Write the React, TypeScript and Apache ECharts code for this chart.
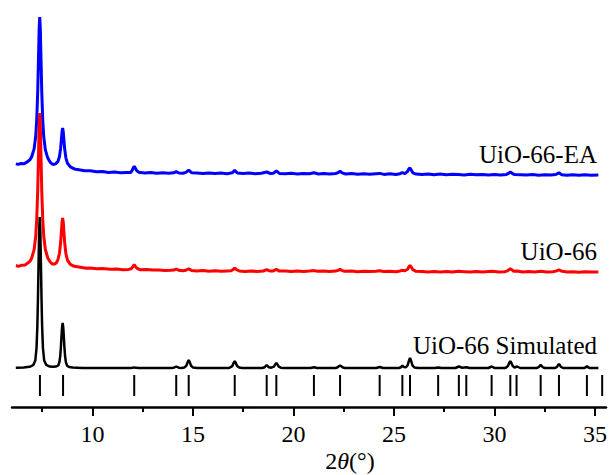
import React, { useEffect, useRef } from "react";
import * as echarts from "echarts";

// Powder XRD patterns, intensity in arbitrary units above each trace's own baseline.
const SIMULATED: [number, number][] = [
  [6.19, 0.3], [6.58, 0.5], [6.88, 1.2], [7.06, 3], [7.16, 7.5], [7.22, 20], [7.26, 41], [7.29, 68],
  [7.32, 103], [7.35, 136], [7.38, 151], [7.41, 136], [7.44, 103], [7.47, 68], [7.5, 41], [7.54, 20],
  [7.6, 7.5], [7.7, 3.2], [7.88, 1.4], [8.02, 1.2], [8.2, 1.5], [8.3, 2.5], [8.36, 6], [8.4, 12],
  [8.43, 20], [8.46, 30.6], [8.49, 40.5], [8.52, 45], [8.55, 40.5], [8.58, 30.6], [8.61, 20], [8.64, 12],
  [8.68, 5.9], [8.74, 2.3], [8.84, 1], [9.02, 0.4], [9.5, 0.1], [10.5, 0],
  [11.9, 0], [12.0, 0.15], [12.08, 0.6], [12.16, 0.15], [12.3, 0],
  [13.9, 0], [14.05, 0.3], [14.17, 1.5], [14.29, 0.3], [14.45, 0.1], [14.57, 0.4], [14.67, 2.2],
  [14.73, 5.4], [14.79, 8], [14.85, 5.4], [14.91, 2.2], [15.01, 0.4], [15.2, 0],
  [16.8, 0], [16.96, 1.9], [17.02, 4.8], [17.08, 7], [17.14, 4.8], [17.2, 1.9], [17.3, 0.4], [17.45, 0],
  [18.45, 0], [18.57, 0.8], [18.67, 3], [18.77, 0.8], [18.9, 0.3], [19.03, 1.35], [19.09, 3.4],
  [19.15, 5], [19.21, 3.4], [19.27, 1.35], [19.37, 0.3], [19.55, 0],
  [20.85, 0], [21.02, 0.8], [21.19, 0],
  [22.1, 0], [22.2, 0.7], [22.26, 1.7], [22.32, 2.5], [22.38, 1.7], [22.44, 0.7], [22.55, 0],
  [24.12, 0], [24.29, 1], [24.46, 0],
  [25.25, 0], [25.35, 0.7], [25.42, 2.5], [25.49, 0.9], [25.6, 0.8], [25.68, 2.7], [25.74, 6.8],
  [25.8, 10], [25.86, 6.8], [25.92, 2.7], [26.02, 0.5], [26.2, 0],
  [27.03, 0], [27.2, 0.6], [27.37, 0],
  [28.06, 0], [28.23, 1.5], [28.4, 0.3], [28.6, 0.8], [28.77, 0],
  [29.7, 0], [29.86, 1.5], [30.0, 0.1],
  [30.55, 0], [30.67, 1.9], [30.73, 4.8], [30.79, 7], [30.85, 4.8], [30.91, 1.9], [31.0, 0.5],
  [31.13, 1.5], [31.28, 0],
  [32.1, 0], [32.2, 0.8], [32.25, 2], [32.3, 3], [32.35, 2], [32.4, 0.8], [32.5, 0],
  [33.02, 0], [33.11, 1.1], [33.16, 2.7], [33.21, 4], [33.26, 2.7], [33.31, 1.1], [33.42, 0],
  [34.45, 0], [34.54, 0.6], [34.6, 2], [34.66, 0.6], [34.75, 0],
  [35.17, 0],
];

const UIO66: [number, number][] = [
  [6.19, 5.7], [6.35, 5.3], [6.5, 6.3], [6.65, 6.6], [6.78, 8.4], [6.9, 10.4], [6.98, 13.5], [7.1, 21.8],
  [7.18, 35.2], [7.23, 51.8], [7.28, 81.4], [7.32, 117.5], [7.35, 145.8], [7.38, 158.5], [7.41, 145.8],
  [7.44, 117.4], [7.48, 81.5], [7.53, 51.9], [7.58, 35.3], [7.66, 22], [7.78, 13.5], [7.9, 9.5],
  [8.0, 7.6], [8.1, 7.4], [8.2, 8.5], [8.28, 11.5], [8.36, 18], [8.42, 29], [8.46, 41], [8.49, 49.5],
  [8.52, 53.5], [8.55, 49.5], [8.58, 40.5], [8.62, 29], [8.68, 18], [8.76, 11.4], [8.9, 7.2],
  [9.1, 5.2], [9.4, 4.3], [9.7, 3.2], [9.9, 3.6], [10.2, 2.8], [10.5, 3.0], [10.9, 2.3], [11.2, 2.5],
  [11.5, 1.8], [11.8, 2.1], [11.93, 2.8], [12.0, 4.5], [12.08, 6.8], [12.16, 4.5], [12.25, 2.7],
  [12.4, 1.8], [12.7, 2.0], [13.0, 1.4], [13.3, 1.6], [13.6, 0.9], [13.9, 1.2], [14.05, 1.4],
  [14.17, 2.5], [14.3, 1.2], [14.5, 0.8], [14.65, 1.3], [14.79, 2.8], [14.93, 1.1], [15.2, 0.6],
  [15.5, 1.0], [15.8, 0.3], [16.1, 0.7], [16.4, 0.2], [16.7, 0.6], [16.9, 0.8], [17.0, 2.0],
  [17.08, 3.4], [17.16, 2.0], [17.3, 0.6], [17.6, 0.1], [17.9, 0.6], [18.2, 0.0], [18.5, 0.5],
  [18.67, 1.9], [18.82, 0.5], [19.0, 0.6], [19.15, 2.2], [19.3, 0.4], [19.6, 0.5], [19.9, -0.1],
  [20.2, 0.4], [20.5, 0.0], [20.8, 0.5], [21.02, 0.9], [21.2, 0.2], [21.5, 0.4], [21.8, -0.1],
  [22.1, 0.4], [22.24, 1.2], [22.32, 2.3], [22.4, 1.2], [22.55, 0.2], [22.9, 0.4], [23.2, -0.2],
  [23.5, 0.3], [23.8, -0.1], [24.1, 0.3], [24.29, 0.8], [24.5, -0.1], [24.8, 0.3], [25.1, -0.2],
  [25.3, 0.5], [25.42, 1.3], [25.55, 0.8], [25.68, 2.2], [25.74, 4.5], [25.8, 6], [25.86, 4.5],
  [25.94, 1.8], [26.1, 0.2], [26.4, 0.0], [26.7, -0.5], [27.0, 0.0], [27.3, -0.4], [27.6, 0.0],
  [27.9, -0.5], [28.2, 0.2], [28.5, -0.2], [28.8, -0.6], [29.1, -0.1], [29.4, -0.5], [29.7, 0.0],
  [29.9, 0.3], [30.2, -0.4], [30.5, -0.2], [30.65, 0.6], [30.72, 1.8], [30.79, 2.8], [30.86, 1.8],
  [30.95, 0.3], [31.13, 0.5], [31.4, -0.5], [31.7, -0.1], [32.0, -0.6], [32.3, 0.2], [32.6, -0.4],
  [32.9, -0.2], [33.1, 0.6], [33.21, 1.8], [33.32, 0.5], [33.6, -0.5], [33.9, -0.2], [34.2, -0.7],
  [34.5, -0.3], [34.8, -0.6], [35.17, -0.5],
];

const UIO66_EA: [number, number][] = [
  [6.19, 11.1], [6.32, 10.6], [6.45, 11.6], [6.6, 11.3], [6.78, 13.4], [6.9, 15.5], [6.98, 18.3],
  [7.1, 26.1], [7.18, 39], [7.23, 55], [7.28, 83.7], [7.32, 118.9], [7.35, 145.8], [7.38, 158],
  [7.41, 145.7], [7.44, 118.6], [7.48, 83.4], [7.53, 54.4], [7.58, 38.2], [7.66, 25.1], [7.78, 16.9],
  [7.9, 12.8], [7.98, 11.2], [8.08, 10.5], [8.18, 11.4], [8.28, 13.3], [8.36, 18.2], [8.42, 26.8],
  [8.46, 36], [8.49, 43.2], [8.52, 47], [8.55, 43], [8.58, 35.7], [8.62, 26.2], [8.68, 17.2],
  [8.76, 11.7], [8.9, 8.2], [9.1, 6.1], [9.4, 5], [9.6, 4.2], [9.9, 4.3], [10.2, 3.2], [10.5, 3.4],
  [10.8, 2.5], [11.1, 2.9], [11.4, 2.2], [11.7, 2.6], [11.9, 2.4], [11.98, 4.6], [12.03, 7.0],
  [12.08, 8.8], [12.13, 7.0], [12.2, 4.4], [12.3, 2.8], [12.6, 2.0], [12.9, 2.5], [13.2, 1.8],
  [13.5, 2.3], [13.8, 1.7], [14.05, 2.2], [14.17, 3.3], [14.3, 2.0], [14.5, 1.7], [14.65, 2.6],
  [14.79, 4.8], [14.93, 2.3], [15.2, 1.9], [15.5, 1.4], [15.8, 2.1], [16.1, 1.5], [16.4, 2.0],
  [16.7, 1.3], [16.95, 2.2], [17.08, 4.6], [17.21, 2.0], [17.5, 1.5], [17.8, 1.9], [18.1, 1.2],
  [18.4, 1.8], [18.67, 3.0], [18.85, 1.5], [19.0, 1.8], [19.15, 4.0], [19.3, 1.6], [19.6, 1.3],
  [19.9, 1.8], [20.2, 1.1], [20.5, 1.6], [20.8, 1.2], [21.02, 2.2], [21.25, 1.0], [21.5, 1.5],
  [21.8, 0.9], [22.1, 1.5], [22.22, 2.3], [22.32, 3.8], [22.42, 2.2], [22.6, 1.0], [22.9, 1.4],
  [23.2, 0.7], [23.5, 1.3], [23.8, 0.8], [24.1, 1.3], [24.3, 1.6], [24.5, 0.6], [24.8, 1.2],
  [25.1, 0.5], [25.3, 1.3], [25.42, 2.4], [25.55, 1.4], [25.68, 3.6], [25.74, 6], [25.8, 7],
  [25.86, 5], [25.94, 2.2], [26.1, 0.9], [26.4, 0.5], [26.7, 1.0], [27.0, 0.3], [27.3, 0.9],
  [27.6, 0.2], [27.9, 0.8], [28.2, 0.6], [28.5, 0.1], [28.8, 0.7], [29.1, 0.2], [29.4, 0.6],
  [29.7, 0.0], [30.0, 0.5], [30.3, 0.1], [30.6, 0.6], [30.72, 1.9], [30.79, 3], [30.86, 1.9],
  [31.0, 0.4], [31.3, 0.3], [31.6, -0.1], [31.9, 0.4], [32.2, -0.2], [32.5, 0.3], [32.8, -0.1],
  [33.05, 0.5], [33.21, 2.2], [33.35, 0.3], [33.6, -0.2], [33.9, 0.3], [34.2, -0.3], [34.5, 0.2],
  [34.8, -0.2], [35.17, 0],
];

// Calculated Bragg reflection positions (2θ, °)
const REFLECTIONS: number[] = [
  7.39, 8.54, 12.08, 14.17, 14.79, 17.08, 18.67, 19.15, 21.02, 22.32, 24.29, 25.42, 25.8, 27.2,
  28.23, 28.6, 29.86, 30.79, 31.1, 32.3, 33.21, 34.6, 35.36,
];

const SERIES_NAMES = ["UiO-66-EA", "UiO-66", "UiO-66 Simulated"];
const SERIES_COLORS = ["#0000ff", "#ff0000", "#000000"];
const VERTICAL_OFFSETS = [232, 135.5, 39];
const MAJOR_TICKS = [10, 15, 20, 25, 30, 35];
const MINOR_TICKS = [7.5, 12.5, 17.5, 22.5, 27.5, 32.5];

const SERIF = "Liberation Serif";
const MARK_TOP = 32;
const MARK_BOTTOM = 11;

function shift(points: [number, number][], dy: number): [number, number][] {
  return points.map(([x, y]) => [x, y + dy]);
}

export default function App() {
  const ref = useRef<HTMLDivElement>(null);

  useEffect(() => {
    if (!ref.current) return;
    const chart = echarts.init(ref.current, null, { renderer: "svg" });
    const traces = [UIO66_EA, UIO66, SIMULATED];

    const lineSeries = traces.map((pts, i) => ({
      name: SERIES_NAMES[i],
      type: "line",
      data: shift(pts, VERTICAL_OFFSETS[i]),
      showSymbol: false,
      symbol: "none",
      smooth: false,
      lineStyle: { color: SERIES_COLORS[i], width: i === 2 ? 2.5 : 3 },
      z: 2 + i,
      silent: true,
    }));

    const option: any = {
      animation: false,
      backgroundColor: "#ffffff",
      grid: { left: 12, right: 5, top: 7, bottom: 68, containLabel: false },
      xAxis: [
        {
          type: "value",
          min: 6,
          max: 35.55,
          position: "bottom",
          axisLine: { show: true, onZero: false, lineStyle: { color: "#000", width: 2.5 } },
          axisTick: {
            show: true,
            length: 9,
            customValues: MAJOR_TICKS,
            lineStyle: { color: "#000", width: 2 },
          },
          axisLabel: {
            show: true,
            customValues: MAJOR_TICKS,
            color: "#000",
            fontSize: 24,
            fontFamily: SERIF,
            margin: 15,
          },
          splitLine: { show: false },
        },
        {
          type: "value",
          min: 6,
          max: 35.55,
          position: "bottom",
          gridIndex: 0,
          axisLine: { show: false, onZero: false },
          axisTick: {
            show: true,
            length: 5,
            customValues: MINOR_TICKS,
            lineStyle: { color: "#000", width: 2 },
          },
          axisLabel: { show: false },
          splitLine: { show: false },
        },
      ],
      yAxis: { type: "value", min: 0, max: 400, show: false },
      series: [
        ...lineSeries,
        {
          type: "custom",
          name: "reflections",
          xAxisIndex: 0,
          yAxisIndex: 0,
          data: REFLECTIONS.map((v) => [v, MARK_TOP]),
          encode: { x: 0, y: 1 },
          silent: true,
          z: 6,
          renderItem: (_params: any, api: any) => {
            const a = api.coord([api.value(0), MARK_TOP]);
            const b = api.coord([api.value(0), MARK_BOTTOM]);
            return {
              type: "line",
              shape: { x1: a[0], y1: a[1], x2: b[0], y2: b[1] },
              style: { stroke: "#000", lineWidth: 2 },
            };
          },
        },
      ],
      graphic: [
        ...SERIES_NAMES.map((name, i) => ({
          type: "text",
          x: 597,
          y: [154, 251.5, 345][i],
          silent: true,
          style: {
            text: name,
            fill: "#000",
            fontSize: 25,
            fontFamily: SERIF,
            align: "right",
            verticalAlign: "middle",
          },
        })),
        {
          type: "text",
          x: 350,
          y: 461,
          silent: true,
          style: {
            text: "{n|2}{t|θ}{n|(°)}",
            align: "center",
            verticalAlign: "middle",
            rich: {
              n: { fontSize: 24, fontFamily: SERIF, fill: "#000" },
              t: { fontSize: 24, fontFamily: SERIF, fontStyle: "italic", fill: "#000" },
            },
          },
        },
      ],
    };

    chart.setOption(option);
    return () => chart.dispose();
  }, []);

  return (
    <div
      ref={ref}
      style={{ position: "absolute", left: 0, top: 0, width: 611, height: 475, background: "#fff" }}
    />
  );
}
